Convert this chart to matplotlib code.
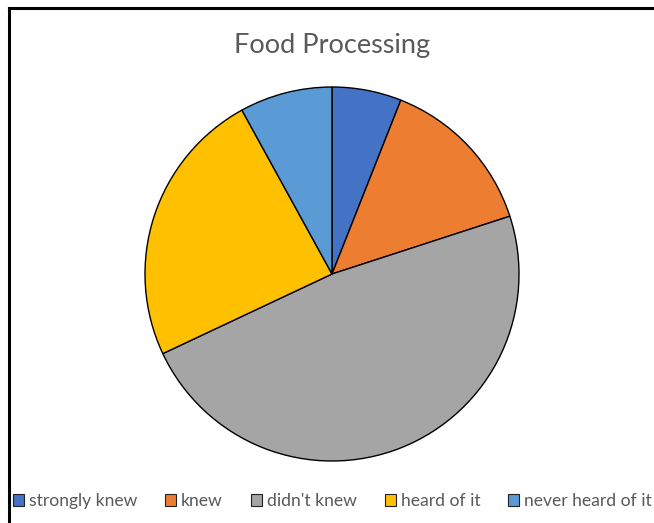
import matplotlib
matplotlib.use("Agg")
import matplotlib.pyplot as plt
from matplotlib.patches import Patch
from matplotlib.lines import Line2D

labels = ["strongly knew", "knew", "didn't knew", "heard of it", "never heard of it"]
values = [6, 14, 48, 24, 8]
colors = ["#4472C4", "#ED7D31", "#A5A5A5", "#FFC000", "#5B9BD5"]

plt.rcParams['font.family'] = ['Lato', 'DejaVu Sans']

fig = plt.figure(figsize=(6.54, 5.23), dpi=100)
W, H = 654, 523
cx, cy, r = 332, 274, 187
ax = fig.add_axes([(cx - r) / W, (H - cy - r) / H, 2 * r / W, 2 * r / H])
ax.pie(values, colors=colors, startangle=90, counterclock=False,
       wedgeprops=dict(edgecolor="black", linewidth=1.0))
ax.set_xlim(-1, 1)
ax.set_ylim(-1, 1)
ax.set_aspect("equal")
ax.axis("off")

fig.text(cx / W, 1 - 46 / H, "Food Processing", ha="center", va="center",
         fontsize=19.5, color="#595959")

# frame lines (top and left only visible)
fig.add_artist(Line2D([9 / W, 1], [1 - 8 / H, 1 - 8 / H], color="black", lw=2.2))
fig.add_artist(Line2D([9 / W, 9 / W], [0, 1 - 8 / H], color="black", lw=2.2))

handles = [Patch(facecolor=c, edgecolor="#222222", linewidth=0.8) for c in colors]
leg = fig.legend(handles, labels, loc="center left", bbox_to_anchor=(13 / W, 1 - 501 / H),
                 ncol=5, frameon=False, fontsize=12.6, handlelength=0.63, handleheight=0.63,
                 handletextpad=0.28, columnspacing=1.6, borderaxespad=0, borderpad=0)
for t in leg.get_texts():
    t.set_color("#595959")

fig.savefig("out.png", dpi=100)
